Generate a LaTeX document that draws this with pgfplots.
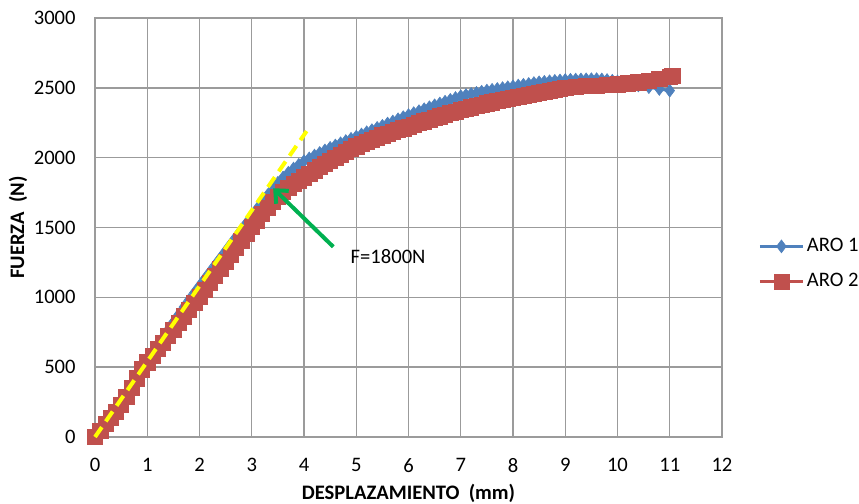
\documentclass[border=0pt]{standalone}
\usepackage{fontspec}
\setmainfont{Carlito}
\usepackage{pgfplots}
\pgfplotsset{compat=1.18}
\usetikzlibrary{arrows.meta}

\definecolor{aroblue}{RGB}{79,129,189}
\definecolor{arored}{RGB}{192,80,77}
\definecolor{gridgray}{RGB}{155,155,155}
\definecolor{arrowgreen}{RGB}{0,176,80}
\definecolor{dashyellow}{RGB}{255,255,0}

\begin{document}
\begin{tikzpicture}
\useasboundingbox (-47.5pt,-33.5pt) rectangle (382pt,218.5pt);
\begin{axis}[
  scale only axis,
  width=313.5pt, height=209.5pt,
  xmin=0, xmax=12, ymin=0, ymax=3000,
  xtick={0,1,...,12},
  ytick={0,500,...,3000},
  grid=major,
  grid style={gridgray, line width=0.7pt},
  axis line style={gridgray, line width=0.7pt},
  major tick length=0pt,
  clip=false,
  clip mode=individual,
  font=\fontsize{10.3}{12}\selectfont,
  /pgf/number format/assume math mode=true,
  /pgf/number format/1000 sep={},
  xticklabel style={inner sep=0pt, anchor=north, yshift=-10.5pt},
  yticklabel style={inner sep=0pt, anchor=east, xshift=-9.5pt},
  xlabel={\bfseries DESPLAZAMIENTO\ \ (mm)},
  ylabel={\bfseries FUERZA\ \ (N)},
  xlabel style={at={(axis description cs:0.5,-0.1337)}, anchor=center},
  ylabel style={at={(axis description cs:-0.1228,0.5)}, anchor=center, rotate=0},
  legend style={at={(axis description cs:1.0575,0.413)}, anchor=west,
    draw=none, fill=none, inner sep=0pt, row sep=7pt,
    nodes={inner sep=1.2pt},
    font=\fontsize{10.3}{12}\selectfont},
  legend cell align=left,
  legend image code/.code={\draw[mark repeat=2,mark phase=2] plot coordinates {(0pt,0pt)(10.75pt,0pt)(21.5pt,0pt)};},
]

% ARO 1
\addplot[aroblue, line width=1.5pt, mark=diamond*, mark size=3.2pt,
  mark options={solid, line width=0.3pt}] table {
x y
0.0 0
0.1 40
0.2 88
0.3 142
0.4 198
0.5 255
0.6 315
0.7 376
0.8 434
0.9 492
1.0 548
1.1 603
1.2 658
1.3 712
1.4 767
1.5 822
1.6 876
1.7 930
1.8 982
1.9 1033
2.0 1083
2.1 1133
2.2 1183
2.3 1233
2.4 1283
2.5 1333
2.6 1383
2.7 1433
2.8 1483
2.9 1532
3.0 1582
3.1 1633
3.2 1682
3.3 1730
3.4 1777
3.5 1820
3.6 1858
3.7 1892
3.8 1922
3.9 1949
4.0 1975
4.1 1995
4.2 2015
4.3 2034
4.4 2052
4.5 2070
4.6 2087
4.7 2103
4.8 2119
4.9 2135
5.0 2150
5.1 2166
5.2 2182
5.3 2197
5.4 2213
5.5 2228
5.6 2244
5.7 2259
5.8 2275
5.9 2290
6.0 2305
6.1 2319
6.2 2333
6.3 2347
6.4 2361
6.5 2375
6.6 2388
6.7 2401
6.8 2414
6.9 2427
7.0 2440
7.1 2448
7.2 2456
7.3 2464
7.4 2472
7.5 2480
7.6 2486
7.7 2492
7.8 2498
7.9 2504
8.0 2510
8.1 2516
8.2 2522
8.3 2528
8.4 2534
8.5 2540
8.6 2543
8.7 2547
8.8 2550
8.9 2553
9.0 2556
9.1 2558
9.2 2559
9.3 2560
9.4 2561
9.5 2562
9.6 2562
9.7 2560
9.8 2556
9.9 2551
10.0 2545
10.2 2532
10.4 2517
10.6 2505
10.8 2492
11.0 2480
};
\addlegendentry{ARO 1}

% ARO 2
\addplot[arored, line width=1.5pt, mark=square*, mark size=3.8pt,
  mark options={solid, line width=0.3pt}] table {
x y
0.0 0
0.1 45
0.2 92
0.3 135
0.4 178
0.5 230
0.6 290
0.7 355
0.8 420
0.9 485
1.0 535
1.1 582
1.2 630
1.3 677
1.4 723
1.5 770
1.6 817
1.7 864
1.8 911
1.9 958
2.0 1005
2.1 1055
2.2 1105
2.3 1155
2.4 1205
2.5 1255
2.6 1305
2.7 1355
2.8 1405
2.9 1455
3.0 1505
3.1 1552
3.2 1597
3.3 1641
3.4 1682
3.5 1720
3.6 1754
3.7 1784
3.8 1811
3.9 1836
4.0 1860
4.1 1885
4.2 1910
4.3 1934
4.4 1957
4.5 1980
4.6 2001
4.7 2022
4.8 2042
4.9 2062
5.0 2081
5.1 2097
5.2 2113
5.3 2129
5.4 2145
5.5 2160
5.6 2173
5.7 2186
5.8 2198
5.9 2211
6.0 2223
6.1 2235
6.2 2248
6.3 2260
6.4 2273
6.5 2285
6.6 2296
6.7 2307
6.8 2319
6.9 2330
7.0 2341
7.1 2351
7.2 2361
7.3 2371
7.4 2380
7.5 2390
7.6 2397
7.7 2405
7.8 2412
7.9 2420
8.0 2427
8.1 2435
8.2 2443
8.3 2450
8.4 2458
8.5 2465
8.6 2472
8.7 2479
8.8 2486
8.9 2492
9.0 2499
9.2 2505
9.4 2512
9.6 2517
9.8 2521
10.0 2525
10.2 2532
10.4 2540
10.6 2550
10.8 2563
11.0 2577
11.05 2585
};
\addlegendentry{ARO 2}

% tangent (elastic slope)
\addplot[dashyellow, line width=2pt, dash pattern=on 6pt off 3.5pt, forget plot]
  coordinates {(0,0) (4.05,2190)};

\draw[arrowgreen, line width=2pt, -{Straight Barb[length=5pt,width=9pt]}]
  (axis cs:4.56,1362) -- (axis cs:3.41,1781);
\node at (axis cs:5.61,1289) {F=1800N};

\end{axis}
\end{tikzpicture}
\end{document}
